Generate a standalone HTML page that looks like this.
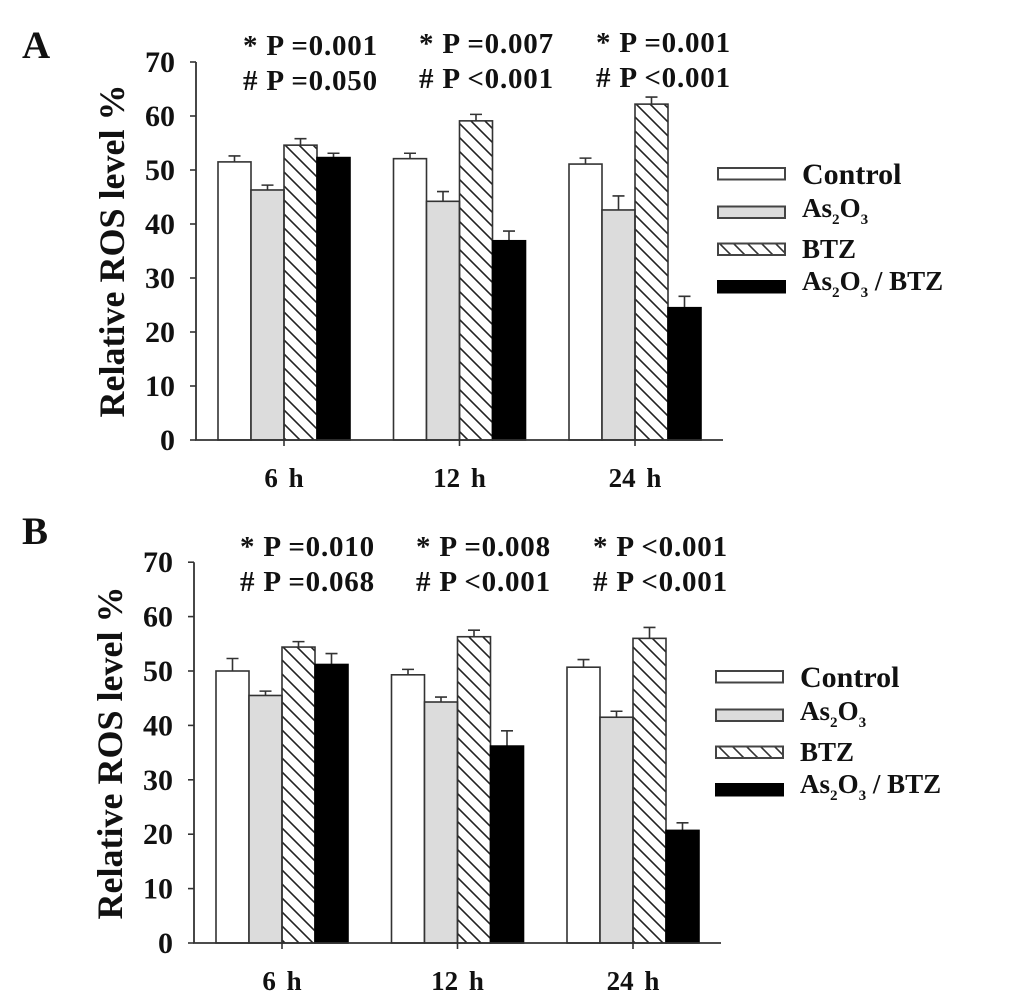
<!DOCTYPE html>
<html>
<head>
<meta charset="utf-8">
<style>
html,body{margin:0;padding:0;background:#fff;width:1034px;height:1000px;overflow:hidden}
svg{display:block}
text{font-family:"Liberation Serif",serif;font-weight:bold;fill:#111}
</style>
</head>
<body>
<svg id="chart" xmlns="http://www.w3.org/2000/svg" width="1034" height="1000" viewBox="0 0 1034 1000">
<defs>
<pattern id="hatch" patternUnits="userSpaceOnUse" width="14" height="14">
<path d="M-3.5 -3.5L17.5 17.5M-3.5 10.5L3.5 17.5M10.5 -3.5L17.5 3.5" stroke="#222" stroke-width="1.6"/>
</pattern>
<pattern id="hatch-legend" patternUnits="userSpaceOnUse" width="14" height="14">
<path d="M-3.5 -3.5L17.5 17.5M-3.5 10.5L3.5 17.5M10.5 -3.5L17.5 3.5" stroke="#333" stroke-width="1.6"/>
</pattern>
</defs>
</svg>
<script>
const categories = ['6 h', '12 h', '24 h'];
const seriesNames = ['Control', 'As2O3', 'BTZ', 'As2O3 / BTZ'];
const yTicks = [0, 10, 20, 30, 40, 50, 60, 70];

const panelAControl = [51.5, 52.1, 51.1];
const panelAArsenic = [46.3, 44.2, 42.6];
const panelABtz = [54.6, 59.1, 62.2];
const panelACombo = [52.3, 36.9, 24.5];
const panelAControlErr = [1.1, 1.0, 1.1];
const panelAArsenicErr = [0.9, 1.8, 2.6];
const panelABtzErr = [1.2, 1.2, 1.3];
const panelAComboErr = [0.8, 1.8, 2.1];
const panelAStarP = ['* P =0.001', '* P =0.007', '* P =0.001'];
const panelAHashP = ['# P =0.050', '# P <0.001', '# P <0.001'];

const panelBControl = [50.0, 49.3, 50.7];
const panelBArsenic = [45.5, 44.3, 41.5];
const panelBBtz = [54.4, 56.3, 56.0];
const panelBCombo = [51.2, 36.2, 20.7];
const panelBControlErr = [2.3, 1.0, 1.4];
const panelBArsenicErr = [0.8, 0.9, 1.1];
const panelBBtzErr = [1.0, 1.2, 2.0];
const panelBComboErr = [2.0, 2.8, 1.4];
const panelBStarP = ['* P =0.010', '* P =0.008', '* P <0.001'];
const panelBHashP = ['# P =0.068', '# P <0.001', '# P <0.001'];

const NS = 'http://www.w3.org/2000/svg';
const svg = document.getElementById('chart');

function make(parent, tag, attrs, txt) {
  const el = document.createElementNS(NS, tag);
  for (const k in attrs) el.setAttribute(k, attrs[k]);
  if (txt !== undefined) el.textContent = txt;
  parent.appendChild(el);
  return el;
}

function subText(parent, label, x, y, size) {
  const t = make(parent, 'text', {x: x, y: y, 'font-size': size});
  label.split(/(2|3)/).forEach(function (part) {
    if (part === '2' || part === '3') {
      make(t, 'tspan', {'font-size': size * 0.56, dy: 7}, part);
      make(t, 'tspan', {dy: -7, 'font-size': size}, '\u200b');
    } else if (part) {
      make(t, 'tspan', {}, part);
    }
  });
  return t;
}

function drawPanel(cfg) {
  const g = make(svg, 'g', {});
  
  
  const yScale = function (v) { return cfg.y0 - v * cfg.pxPerUnit; };
  const barW = 33;
  const groupX = function (i) { return cfg.groupStart + i * 175.5; };
  const fills = ['#fff', '#dcdcdc', 'url(#hatch)', '#000'];

  const letter = make(g, 'text', {x: 22, y: cfg.letterY, 'font-size': 39}, cfg.letter);
  
  

  const title = make(g, 'text', {
    x: 0, y: 0, 'font-size': 36, 'text-anchor': 'middle',
    transform: 'translate(' + (cfg.axisX - 72) + ' ' + (cfg.y0 - cfg.titleUp) + ') rotate(-90)'
  }, 'Relative ROS level %');
  
  

  cfg.series.forEach(function (vals, s) {
    vals.forEach(function (v, i) {
      const x = groupX(i) + s * barW;
      const top = yScale(v);
      const errTop = yScale(v + cfg.errors[s][i]);
      const cx = x + barW / 2;
      const err = make(g, 'path', {
        d: 'M' + cx + ' ' + top + 'V' + errTop + 'M' + (cx - 6) + ' ' + errTop + 'H' + (cx + 6),
        stroke: '#333', 'stroke-width': 1.6, fill: 'none'
      });
      
      
      const bar = make(g, 'rect', {
        x: x, y: top, width: barW, height: cfg.y0 - top,
        fill: fills[s], stroke: s === 3 ? '#000' : '#333', 'stroke-width': 1.6
      });
      
      
    });
  });

  const axes = make(g, 'path', {
    d: 'M' + cfg.axisX + ' ' + yScale(70) + 'V' + cfg.y0 + 'H' + cfg.axisEnd,
    stroke: '#333', 'stroke-width': 1.8, fill: 'none'
  });
  
  

  yTicks.forEach(function (t) {
    const y = yScale(t);
    const tick = make(g, 'line', {x1: cfg.axisX - 6, x2: cfg.axisX, y1: y, y2: y, stroke: '#333', 'stroke-width': 1.6});
    
    
    const lab = make(g, 'text', {x: cfg.axisX - 21, y: y + 10, 'font-size': 30, 'text-anchor': 'end'}, String(t));
    
    
  });

  categories.forEach(function (c, i) {
    const cx = groupX(i) + 2 * barW;
    const tick = make(g, 'line', {x1: cx, x2: cx, y1: cfg.y0, y2: cfg.y0 + 6, stroke: '#333', 'stroke-width': 1.6});
    
    
    const lab = make(g, 'text', {x: cx, y: cfg.y0 + 47, 'font-size': 27, 'text-anchor': 'middle', 'word-spacing': 4}, c);
    
    
    const star = make(g, 'text', {x: cfg.pX[i], y: cfg.pY[i], 'font-size': 29, 'letter-spacing': 0.8}, cfg.star[i]);
    
    
    const hash = make(g, 'text', {x: cfg.pX[i], y: cfg.pY[i] + 35, 'font-size': 29, 'letter-spacing': 0.8}, cfg.hash[i]);
    
    
  });

  const legend = make(g, 'g', {});
  
  
  const boxYs = [168, 206.5, 243.5, 281];
  const textYs = [184, 217, 258, 290];
  const legendSizes = [30, 27, 27, 27];
  const legendFills = ['#fff', '#dcdcdc', 'url(#hatch-legend)', '#000'];
  seriesNames.forEach(function (n, s) {
    const entry = make(legend, 'g', {});
    
    
    make(entry, 'rect', {
      x: cfg.legendX, y: boxYs[s] + cfg.legendDy, width: 67, height: 11.5,
      fill: legendFills[s], stroke: s === 3 ? '#000' : '#444', 'stroke-width': 2
    });
    subText(entry, n, cfg.legendX + 84, textYs[s] + cfg.legendDy, legendSizes[s]);
  });
}

drawPanel({
  letter: 'A', letterY: 58, y0: 440, pxPerUnit: 5.4, axisX: 196, axisEnd: 723, groupStart: 218, titleUp: 189,
  series: [panelAControl, panelAArsenic, panelABtz, panelACombo],
  errors: [panelAControlErr, panelAArsenicErr, panelABtzErr, panelAComboErr],
  star: panelAStarP, hash: panelAHashP,
  pX: [243, 419, 596], pY: [55, 53, 52],
  legendX: 718, legendDy: 0
});
drawPanel({
  letter: 'B', letterY: 544, y0: 943, pxPerUnit: 5.44, axisX: 194, axisEnd: 721, groupStart: 216, titleUp: 190,
  series: [panelBControl, panelBArsenic, panelBBtz, panelBCombo],
  errors: [panelBControlErr, panelBArsenicErr, panelBBtzErr, panelBComboErr],
  star: panelBStarP, hash: panelBHashP,
  pX: [240, 416, 593], pY: [556, 556, 556],
  legendX: 716, legendDy: 503
});
</script>
</body>
</html>
